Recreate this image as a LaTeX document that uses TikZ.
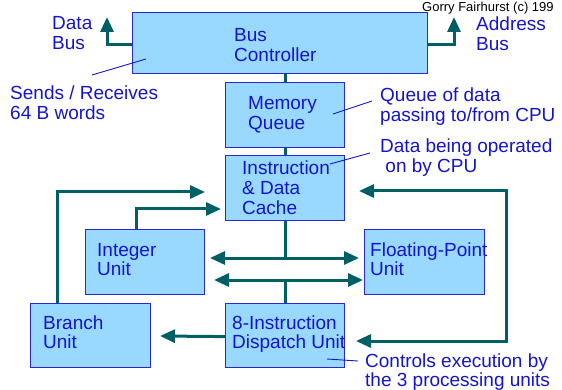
\documentclass[tikz,border=0pt]{standalone}
\usepackage{fontspec}
\setmainfont{Liberation Sans}
\usetikzlibrary{arrows.meta}

\definecolor{boxfill}{RGB}{153,217,255}
\definecolor{boxline}{RGB}{40,40,215}
\definecolor{ink}{RGB}{20,20,205}
\definecolor{wire}{RGB}{0,95,100}

% left-aligned lines whose baseline is that of the first line
\newcommand\stack[1]{\begin{tabular}[t]{@{}l@{}}#1\end{tabular}}

\begin{document}
\begin{tikzpicture}[x=1pt,y=-1pt,
  unit/.style={draw=boxline, fill=boxfill, line width=1.2pt, inner sep=0pt,
               anchor=north west},
  lbl/.style={anchor=base west, inner sep=0pt, text=ink,
              font=\fontsize{19}{19.8}\selectfont},
  wirec/.style={draw=wire, line width=3pt},
  tip/.style={-{Triangle[length=15pt,width=13pt]}},
  tips/.style={{Triangle[length=15pt,width=13pt]}-{Triangle[length=15pt,width=13pt]}},
  note/.style={draw=ink, line width=0.9pt}]
\useasboundingbox (0,0) rectangle (562,390);

% functional units
\node[unit, minimum width=295pt, minimum height=61pt] (bus)   at (132,12)  {};
\node[unit, minimum width=119pt, minimum height=65pt] (mq)    at (225,82)  {};
\node[unit, minimum width=119pt, minimum height=65pt] (cache) at (225,155) {};
\node[unit, minimum width=119pt, minimum height=65pt] (int)   at (85,229)  {};
\node[unit, minimum width=120pt, minimum height=65pt] (fpu)   at (364,229) {};
\node[unit, minimum width=120pt, minimum height=64pt] (br)    at (30,303)  {};
\node[unit, minimum width=119pt, minimum height=64pt] (disp)  at (225,303) {};

% labels
\node[lbl] (tdb)   at (52,30)   {\stack{Data\\Bus}};
\node[lbl] (tab)   at (476,31)  {\stack{Address\\Bus}};
\node[lbl] (tbus)  at (234,42)  {\stack{Bus\\Controller}};
\node[lbl] (tsend) at (10,100)  {\stack{Sends / Receives\\64 B words}};
\node[lbl] (tmq)   at (248,110) {\stack{Memory\\Queue}};
\node[lbl] (tqd)   at (380,102) {\stack{Queue of data\\passing to/from CPU}};
\node[lbl] (tdo)   at (380,153) {\stack{Data being operated\\\ on by CPU}};
\node[lbl] (tca)   at (242,175) {\stack{Instruction\\\& Data\\Cache}};
\node[lbl] (tint)  at (97,256)  {\stack{Integer\\Unit}};
\node[lbl] (tfpu)  at (370,256) {\stack{Floating-Point\\Unit}};
\node[lbl] (tbr)   at (43,329)  {\stack{Branch\\Unit}};
\node[lbl] (tdisp) at (232,329) {\stack{8-Instruction\\Dispatch Unit}};
\node[lbl] (tctl)  at (365,367) {\stack{Controls execution by\\the 3 processing units}};
\node[anchor=base west, inner sep=0pt, font=\fontsize{13}{15}\selectfont]
  (copy) at (422,12) {Gorry Fairhurst (c) 199};

% bus outputs
\coordinate (dbtip) at (107,17);
\coordinate (abtip) at (454,17);
\draw[wirec,tip] ([yshift=-1.5pt]bus.west) -| (dbtip);
\draw[wirec,tip] ([yshift=-1.5pt]bus.east) -| (abtip);

% central spine
\draw[wirec] (mq.north) -- (mq.north |- bus.south);
\draw[wirec] (mq.south) -- (cache.north);

\coordinate (la) at (210,258);
\coordinate (ra) at (359,258);
\coordinate (lb) at (214,280);
\coordinate (rb) at (363,280);
\draw[wirec,tips] (la) -- (ra);
\draw[wirec,tips] (lb) -- (rb);
\draw[wirec] (cache.south) -- (cache.south |- la);
\draw[wirec] (disp.north) -- (disp.north |- lb);

% results back to the cache
\coordinate (itip) at (221,209);
\coordinate (btip) at (205,192);
\draw[wirec,tip] ([xshift=-8.5pt]int.north) |- (itip);
\draw[wirec,tip] ([xshift=-33pt]br.north) |- (btip);

% feedback loop on the right
\coordinate (ctip) at (359,191);
\coordinate (dtip) at (356,341);
\coordinate (loop) at (506,191);
\draw[wirec,tips] (dtip) -| (loop) -- (ctip);

% dispatch to branch unit
\coordinate (brtip) at (160,336);
\draw[wirec,tip] ([yshift=-1pt]disp.west) -- (brtip);

% annotation leaders
\coordinate (n1a) at (92,75);   \coordinate (n1b) at (146,59);
\coordinate (n2a) at (333,114); \coordinate (n2b) at (372,101);
\coordinate (n3a) at (330,164); \coordinate (n3b) at (370,153);
\coordinate (n4a) at (327,359); \coordinate (n4b) at (358,361);
\draw[note] (n1a) -- (n1b);
\draw[note] (n2a) -- (n2b);
\draw[note] (n3a) -- (n3b);
\draw[note] (n4a) -- (n4b);
\end{tikzpicture}
\end{document}
